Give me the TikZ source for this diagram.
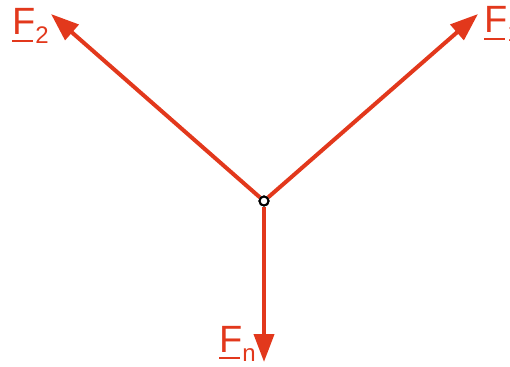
\documentclass[tikz,border=0pt]{standalone}
\usepackage{fontspec}
\setmainfont{Liberation Sans}
\usetikzlibrary{arrows.meta}
\definecolor{forcered}{HTML}{E2381C}
\newcommand{\Fvec}[1]{\rlap{\rule[-7pt]{21pt}{2pt}}\fontsize{38}{38}\selectfont F\raisebox{-9pt}{\fontsize{24}{24}\selectfont #1}}
\begin{document}
\begin{tikzpicture}[x=1pt,y=-1pt,
  force/.style={draw=forcered,line width=4pt,-{Triangle[length=28pt,width=20pt]}},
  lbl/.style={text=forcered,inner sep=0pt,anchor=base west},
  pivot/.style={circle,draw=black,fill=white,line width=2pt,minimum size=9pt,inner sep=0pt}]
\useasboundingbox (0,0) rectangle (510,366);
\clip (0,0) rectangle (510,366);
\node[pivot] (o) at (264,201) {};
\coordinate (t2) at (51,14);
\coordinate (t1) at (478,14);
\coordinate (tn) at (264,362);
\draw[force] (o) -- (t2);
\draw[force] (o) -- (t1);
\draw[force] (o) -- (tn);
\node[pivot] at (o) {};
\node[lbl] (l2) at (12,35) {\Fvec{2}};
\node[lbl] (l1) at (484,33) {\Fvec{1}};
\node[lbl] (ln) at (219,352) {\Fvec{n}};
\end{tikzpicture}
\end{document}
